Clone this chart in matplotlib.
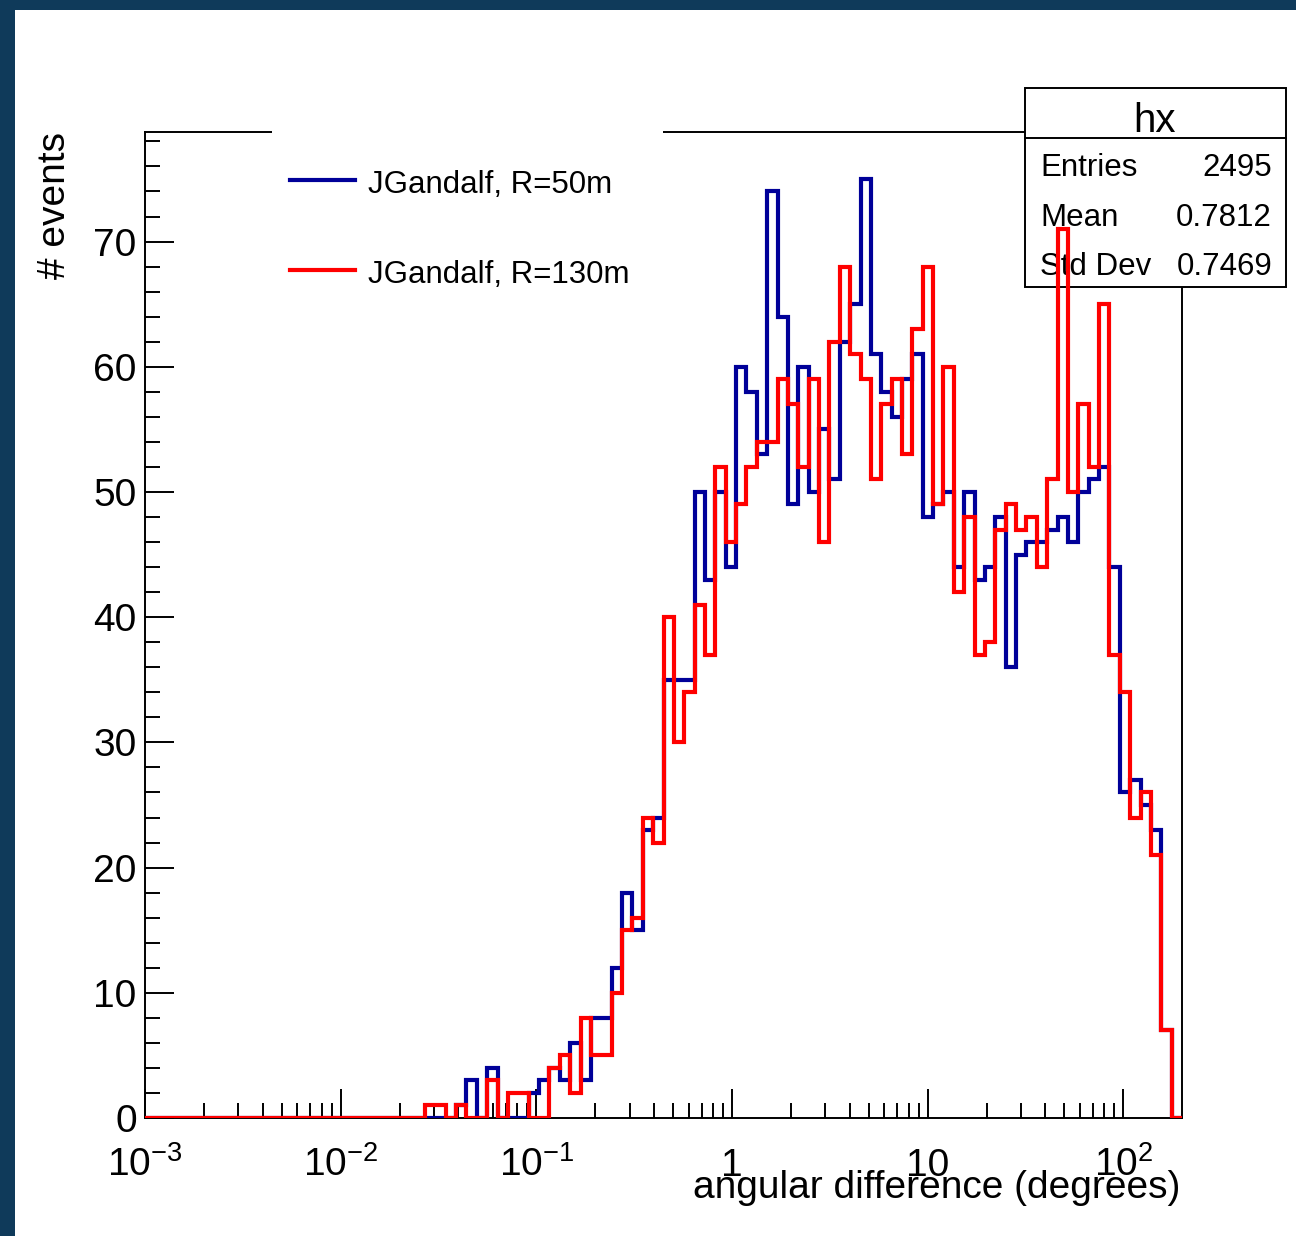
import numpy as np
import matplotlib.pyplot as plt
from matplotlib.patches import Rectangle
from matplotlib.lines import Line2D
from matplotlib.ticker import LogLocator, MultipleLocator, NullFormatter

plt.rcParams['font.family'] = ['Liberation Sans', 'DejaVu Sans']
plt.rcParams['mathtext.fontset'] = 'custom'
plt.rcParams['mathtext.rm'] = 'Liberation Sans'
plt.rcParams['mathtext.it'] = 'Liberation Sans:italic'
plt.rcParams['mathtext.bf'] = 'Liberation Sans:bold'

# 100 bins in log10(angle) from -3 to 2.3, bins 0..26 are empty
n_bins = 100
first_bin = 27
counts_r50 = [0, 0, 0, 1, 3, 0, 4, 0, 0, 0, 2, 3, 4, 3, 6, 3, 8, 8, 12, 18, 15,
              23, 24, 35, 35, 35, 50, 43, 50, 44, 60,
              58, 53, 74, 64, 49, 60, 50, 55, 51, 62,
              65, 75, 61, 58, 56, 59, 61, 48, 49, 50,
              44, 50, 43, 44, 48, 36, 45, 46, 46, 47,
              48, 46, 50, 51, 52, 44, 26, 27, 25, 23, 7, 0]
counts_r130 = [1, 1, 0, 1, 0, 0, 3, 0, 2, 2, 0, 0, 4, 5, 2, 8, 5, 5, 10, 15, 16,
               24, 22, 40, 30, 34, 41, 37, 52, 46, 49,
               52, 54, 54, 59, 57, 52, 59, 46, 62, 68,
               61, 59, 51, 57, 59, 53, 63, 68, 49, 60,
               42, 48, 37, 38, 47, 49, 47, 48, 44, 51,
               71, 50, 57, 52, 65, 37, 34, 24, 26, 21, 7, 0]

x_tick_values = [1e-3, 1e-2, 1e-1, 1, 10, 100]
x_tick_labels = [r'$10^{-3}$', r'$10^{-2}$', r'$10^{-1}$', '1', '10', r'$10^{2}$']

stats_names = ['Entries', 'Mean', 'Std Dev']
stats_values = ['2495', '0.7812', '0.7469']
legend_labels = ['JGandalf, R=50m', 'JGandalf, R=130m']
colors = ['#000099', '#ff0000']

edges = np.logspace(-3, 2.3, n_bins + 1)
blue = np.concatenate([np.zeros(first_bin), counts_r50])
red = np.concatenate([np.zeros(first_bin), counts_r130])

W, H = 1296, 1236


def fx(x):
    return x / W


def fy(y):
    return 1 - y / H


fig = plt.figure(figsize=(W / 100, H / 100), dpi=100, facecolor='#0f3a5a')
fig.patches.append(Rectangle((fx(15), 0), 1 - fx(15), fy(10), transform=fig.transFigure,
                             facecolor='white', edgecolor='none', zorder=-10))

ax = fig.add_axes([fx(145), fy(1118), (1182 - 145) / W, (1118 - 132) / H])
ax.set_xscale('log')
ax.set_xlim(1e-3, 10 ** 2.3)
ax.set_ylim(0, 78.75)

ax.stairs(blue, edges, baseline=0, color=colors[0], lw=3, zorder=3, joinstyle='miter')
ax.stairs(red, edges, baseline=0, color=colors[1], lw=3, zorder=6, joinstyle='miter')

for s in ax.spines.values():
    s.set_linewidth(1.4)

ax.yaxis.set_major_locator(MultipleLocator(10))
ax.yaxis.set_minor_locator(MultipleLocator(2))
ax.xaxis.set_major_locator(LogLocator(base=10, numticks=20))
ax.xaxis.set_minor_locator(LogLocator(base=10, subs=np.arange(2, 10), numticks=20))
ax.xaxis.set_major_formatter(NullFormatter())
ax.xaxis.set_minor_formatter(NullFormatter())
ax.tick_params(which='both', direction='in', top=False, right=False, width=1.4)
ax.tick_params(which='major', length=21, labelsize=28, pad=6)
ax.tick_params(which='minor', length=10.5)

# x labels drawn by hand so "1", "10" and "10^n" share one baseline
for v, lab in zip(x_tick_values, x_tick_labels):
    ax.text(v, (1118 - 1176) / 986, lab, transform=ax.get_xaxis_transform(),
            ha='center', va='baseline', fontsize=28)

fig.text(fx(1180), fy(1198), 'angular difference (degrees)', ha='right', va='baseline', fontsize=28)
fig.text(fx(55), fy(132), '# events', rotation=90, ha='center', va='top', fontsize=28)

# legend (white box laid over the frame, no border)
ax.add_patch(Rectangle((fx(272), fy(320)), fx(663) - fx(272), fy(110) - fy(320),
                       transform=fig.transFigure, facecolor='white', edgecolor='none',
                       clip_on=False, zorder=4))
for i, (lab, c) in enumerate(zip(legend_labels, colors)):
    yl = 180 + 90 * i
    ax.add_line(Line2D([fx(290), fx(355)], [fy(yl), fy(yl)], transform=fig.transFigure,
                       color=c, lw=3, clip_on=False, zorder=5))
    ax.text(fx(368), fy(yl + 13), lab, transform=fig.transFigure, ha='left',
            va='baseline', fontsize=22.5, zorder=5)

# stats box
ax.add_patch(Rectangle((fx(1025), fy(287)), fx(1286) - fx(1025), fy(88) - fy(287),
                       transform=fig.transFigure, facecolor='white', edgecolor='black',
                       lw=1.4, clip_on=False, zorder=4))
ax.add_line(Line2D([fx(1025), fx(1286)], [fy(138), fy(138)], transform=fig.transFigure,
                   color='black', lw=1.4, clip_on=False, zorder=4.5))
ax.text(fx(1155), fy(132), 'hx', transform=fig.transFigure, ha='center', va='baseline',
        fontsize=29, zorder=5)
for i, (name, val) in enumerate(zip(stats_names, stats_values)):
    yb = 176 + 49.5 * i
    ax.text(fx(1040), fy(yb), name, transform=fig.transFigure, ha='left', va='baseline',
            fontsize=22.5, zorder=5)
    ax.text(fx(1272), fy(yb), val, transform=fig.transFigure, ha='right', va='baseline',
            fontsize=22.5, zorder=5)

fig.savefig('out.png', dpi=100, facecolor=fig.get_facecolor())
